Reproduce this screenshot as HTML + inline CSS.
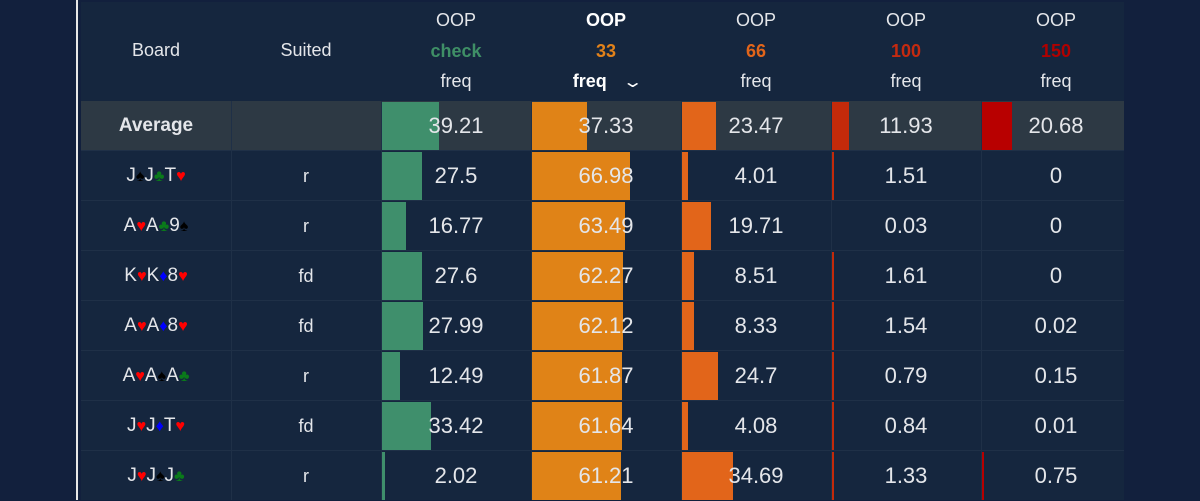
<!DOCTYPE html>
<html><head><meta charset="utf-8"><style>
body{margin:0;width:1200px;height:500px;background:#12203d;overflow:hidden;font-family:"Liberation Sans","DejaVu Sans",sans-serif;}
#wrap{position:absolute;left:0;top:0;width:1200px;height:500px;}
.vl{position:absolute;left:76px;top:0;width:2px;height:500px;background:#e8e8e8;}
.tbl{position:absolute;left:81px;top:2px;width:1043px;height:498px;background:#15263e;}
.cell{position:absolute;color:#e4e6ea;text-align:center;}
.h{font-size:18px;line-height:30px;}
.bar{position:absolute;}
.num{position:absolute;font-size:22px;color:#e4e6ea;text-align:center;line-height:50px;}
.sep{position:absolute;background:#1f3047;}
.su{font-size:0.85em;}
</style></head><body><div id="wrap">
<div class="vl"></div>
<div class="tbl"></div>
<div style="position:absolute;left:81px;top:101px;width:1043px;height:50px;background:#2d3944"></div>
<div id="g"></div>
</div>
<script>
const g=document.getElementById('g');let h='';
const cols=[81,231,381,531,681,831,981,1124];
h+=`<div class="cell h" style="left:81px;width:150px;top:35px">Board</div>`;
h+=`<div class="cell h" style="left:231px;width:150px;top:35px">Suited</div>`;
const hd=[['check','#3f8f66',0],['33','#e2821a',1],['66','#e2651a',0],['100','#c42a10',0],['150','#b00000',0]];
hd.forEach((d,i)=>{const x=cols[i+2];
h+=`<div class="cell h" style="left:${x}px;width:150px;top:5px;${d[2]?'font-weight:bold;color:#fff':''}">OOP</div>`;
h+=`<div class="cell h" style="left:${x}px;width:150px;top:36px;font-weight:bold;color:${d[1]}">${d[0]}</div>`;
h+=`<div class="cell h" style="left:${x}px;width:150px;top:66px;${d[2]?'font-weight:bold;color:#fff':''}">freq${d[2]?' <span style="font-weight:normal;display:inline-block;margin-left:14px;transform:scaleX(1.6);font-size:16px">&#8964;</span>':''}</div>`;
});
const colors=['#3f8f6c','#e08317','#e2651a','#c42a0a','#b80000'];
const sp='<span class="su" style="color:#000">♠</span>',cl='<span class="su" style="color:#0a7a1a">♣</span>',ht='<span class="su" style="color:#f00">♥</span>',dm='<span class="su" style="color:#00f">♦</span>';
const rows=[
['<b>Average</b>','',[39.21,37.33,23.47,11.93,20.68]],
[`J${sp}J${cl}T${ht}`,'r',[27.5,66.98,4.01,1.51,0]],
[`A${ht}A${cl}9${sp}`,'r',[16.77,63.49,19.71,0.03,0]],
[`K${ht}K${dm}8${ht}`,'fd',[27.6,62.27,8.51,1.61,0]],
[`A${ht}A${dm}8${ht}`,'fd',[27.99,62.12,8.33,1.54,0.02]],
[`A${ht}A${sp}A${cl}`,'r',[12.49,61.87,24.7,0.79,0.15]],
[`J${ht}J${dm}T${ht}`,'fd',[33.42,61.64,4.08,0.84,0.01]],
[`J${ht}J${sp}J${cl}`,'r',[2.02,61.21,34.69,1.33,0.75]],
];
rows.forEach((r,ri)=>{const y=101+ri*50;
if(ri>0)h+=`<div class="sep" style="left:81px;top:${y-1}px;width:1043px;height:1px"></div>`;
h+=`<div class="num" style="left:81px;width:150px;top:${y}px;font-size:19px">${r[0]}</div>`;
h+=`<div class="num" style="left:231px;width:150px;top:${y}px;font-size:18px">${r[1]}</div>`;
r[2].forEach((v,i)=>{const x=cols[i+2];let w=v*1.46;if(v<0.5)w=0;else if(w<2)w=2;
h+=`<div class="bar" style="left:${x+1}px;top:${y+1}px;width:${w}px;height:48px;background:${colors[i]}"></div>`;
h+=`<div class="num" style="left:${x}px;width:150px;top:${y}px">${v}</div>`;});
});
for(let i=1;i<7;i++)h+=`<div class="sep" style="left:${cols[i]}px;top:101px;width:1px;height:399px"></div>`;
g.innerHTML=h;
</script>
</body></html>
